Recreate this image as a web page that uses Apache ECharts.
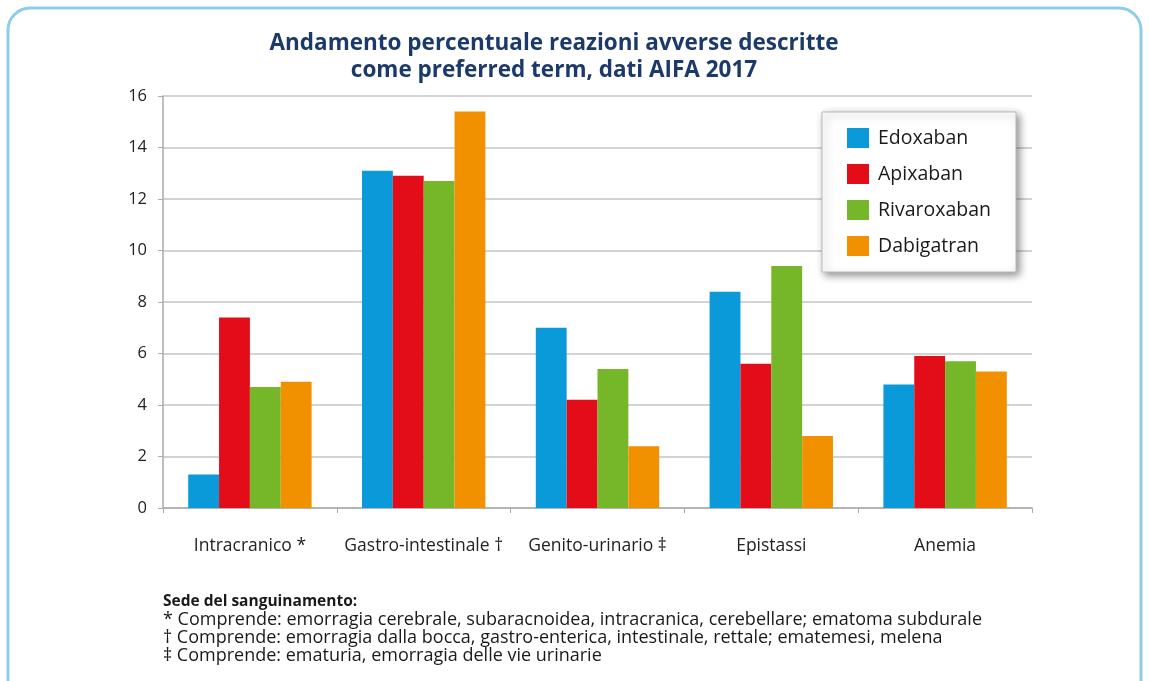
<!DOCTYPE html>
<html><head><meta charset="utf-8">
<script src="https://cdn.jsdelivr.net/npm/echarts@6/dist/echarts.min.js"></script>
<style>html,body{margin:0;padding:0;background:#fff}#c{width:1149px;height:681px}</style>
</head><body><div id="c"></div>
<script>
const categories = ['Intracranico *', 'Gastro-intestinale \u2020', 'Genito-urinario \u2021', 'Epistassi', 'Anemia'];
const seriesNames = ['Edoxaban', 'Apixaban', 'Rivaroxaban', 'Dabigatran'];
const edoxaban = [1.3, 13.1, 7.0, 8.4, 4.8];
const apixaban = [7.4, 12.9, 4.2, 5.6, 5.9];
const rivaroxaban = [4.7, 12.7, 5.4, 9.4, 5.7];
const dabigatran = [4.9, 15.4, 2.4, 2.8, 5.3];
const yTicks = [0, 2, 4, 6, 8, 10, 12, 14, 16];
const footTitle = 'Sede del sanguinamento:';
const footLines = [
  '* Comprende: emorragia cerebrale, subaracnoidea, intracranica, cerebellare; ematoma subdurale',
  '\u2020 Comprende: emorragia dalla bocca, gastro-enterica, intestinale, rettale; ematemesi, melena',
  '\u2021 Comprende: ematuria, emorragia delle vie urinarie'
];
const colors = ['#0b9ad9', '#e20d18', '#76b72a', '#f29100'];
const values = [edoxaban, apixaban, rivaroxaban, dabigatran];
const FONT = '"Open Sans", sans-serif';

const chart = echarts.init(document.getElementById('c'));
const graphic = [
  {type:'rect', shape:{x:8, y:8, width:1133, height:700, r:22}, style:{fill:'none', stroke:'#8dcdec', lineWidth:3}, z:-1},
  {type:'text', left:163, top:594, style:{text:footTitle, font:'bold 15.5px ' + FONT, fill:'#1a1a1a'}}
];
footLines.forEach((t, i) => graphic.push({type:'text', left:163, top:611 + i*18, style:{text:t, font:'18px ' + FONT, fill:'#1a1a1a'}}));

chart.setOption({
  animation:false,
  color: colors,
  title:{
    text:'Andamento percentuale reazioni avverse descritte\ncome preferred term, dati AIFA 2017',
    left:549, top:25, textAlign:'center',
    textStyle:{fontFamily:FONT, fontWeight:'bold', fontSize:22.5, color:'#1b3a6b', lineHeight:27}
  },
  legend:{
    orient:'vertical', left:822, top:112,
    data: seriesNames,
    icon:'rect', itemWidth:22, itemHeight:20, itemGap:16,
    padding:[16, 25, 16, 25],
    backgroundColor:'#fff', borderColor:'#bbb', borderWidth:1,
    shadowBlur:8, shadowColor:'rgba(0,0,0,0.45)', shadowOffsetX:3, shadowOffsetY:3,
    textStyle:{fontFamily:FONT, fontSize:19.5, color:'#1a1a1a', padding:[0,0,0,4]}
  },
  grid:{left:163, right:117, top:96, bottom:173},
  xAxis:{
    type:'category', data:categories,
    axisLine:{lineStyle:{color:'#aaa', width:1.5}},
    axisTick:{show:true, length:5, lineStyle:{color:'#aaa'}},
    axisLabel:{fontFamily:FONT, fontSize:17.5, color:'#222', margin:29, interval:0}
  },
  yAxis:{
    type:'value', min:yTicks[0], max:yTicks[yTicks.length-1], interval:2,
    axisLine:{show:true, lineStyle:{color:'#aaa', width:1.5}},
    axisTick:{show:true, length:5, lineStyle:{color:'#aaa'}},
    axisLabel:{fontFamily:FONT, fontSize:16.5, color:'#222', margin:16},
    splitLine:{lineStyle:{color:'#c4c4c4', width:1.5}}
  },
  series: seriesNames.map((n, i) => ({
    name:n, type:'bar', data:values[i], barGap:'0%', barCategoryGap:'29%'
  })),
  graphic: graphic
});
</script></body></html>
